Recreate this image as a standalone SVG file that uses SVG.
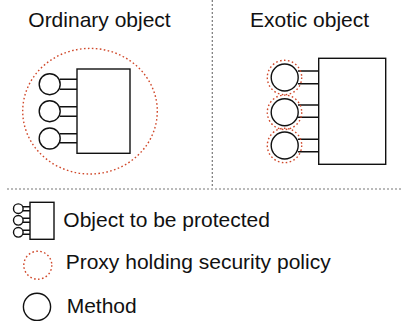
<svg xmlns="http://www.w3.org/2000/svg" width="401" height="322" viewBox="0 0 401 322">
<style>
.t{font-family:"Liberation Sans",Arial,sans-serif;font-size:21px;fill:#111}
.o{fill:#fff;stroke:#111;stroke-width:1.4}
.l{stroke:#111;stroke-width:1.4;fill:none}
.p{fill:none;stroke:#d0482a;stroke-width:1.4;stroke-dasharray:1.6 2.4}
.d{stroke:#777;stroke-width:1.2;stroke-dasharray:2 2;fill:none}
</style>
<rect width="401" height="322" fill="#fff"/>
<g id="dividers">
<line class="d" x1="212.3" y1="0" x2="212.3" y2="187"/>
<line class="d" x1="7" y1="189" x2="401" y2="189"/>
</g>
<g id="ordinary">
<text class="t" x="28.3" y="27">Ordinary object</text>
<ellipse class="p" cx="90" cy="111.2" rx="67.3" ry="62.8"/>
<rect class="o" x="77" y="69" width="53" height="84.3"/>
<path class="l" d="M60 79.3H77M60 89.3H77M60 106.7H77M60 116.3H77M60 133.7H77M60 142.7H77"/>
<circle class="o" cx="49.7" cy="84.2" r="10.5"/>
<circle class="o" cx="49.7" cy="111.2" r="10.5"/>
<circle class="o" cx="49.7" cy="138.5" r="10.5"/>
</g>
<g id="exotic">
<text class="t" x="250" y="27">Exotic object</text>
<rect class="o" x="318.7" y="58.3" width="67" height="106"/>
<path class="l" d="M298 71H318.7M298 83.7H318.7M298 105H318.7M298 117.3H318.7M298 139.3H318.7M298 151.7H318.7"/>
<circle class="o" cx="284.7" cy="77.5" r="13.5"/>
<circle class="o" cx="284.7" cy="112.3" r="13.5"/>
<circle class="o" cx="284.7" cy="145.5" r="13.5"/>
<circle class="p" cx="284.5" cy="77.5" r="17.2"/>
<circle class="p" cx="284.5" cy="112.3" r="17.2"/>
<circle class="p" cx="284.5" cy="145.5" r="17.2"/>
</g>
<g id="legend-object">
<rect class="o" x="30" y="202.3" width="24" height="37"/>
<path class="l" d="M23 206.7H30M23 210.7H30M23 218.3H30M23 222.3H30M23 230.3H30M23 234.3H30" stroke-width="1.1"/>
<circle class="o" cx="18.3" cy="208.7" r="4.8" stroke-width="1.1"/>
<circle class="o" cx="18.3" cy="220.3" r="4.8" stroke-width="1.1"/>
<circle class="o" cx="18.3" cy="232.3" r="4.8" stroke-width="1.1"/>
<text class="t" x="63.3" y="227.3">Object to be protected</text>
</g>
<g id="legend-proxy">
<circle class="p" cx="37.8" cy="265.2" r="14"/>
<text class="t" x="65.7" y="269.3">Proxy holding security policy</text>
</g>
<g id="legend-method">
<circle class="o" cx="37" cy="306.8" r="13.6"/>
<text class="t" x="66.7" y="312.7">Method</text>
</g>
</svg>
